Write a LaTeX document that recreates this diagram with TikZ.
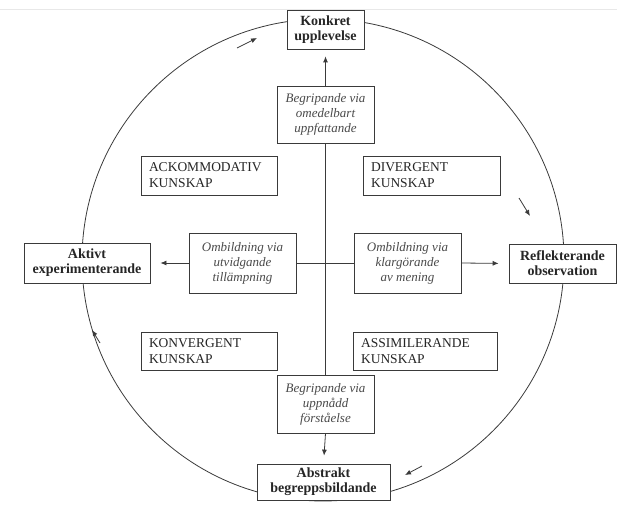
\documentclass[tikz,border=0pt]{standalone}
\usepackage{fontspec}
\setmainfont{Liberation Serif}
\usetikzlibrary{arrows.meta}
\definecolor{ln}{HTML}{3A3A3A}
\definecolor{tx}{HTML}{262626}
\definecolor{it}{HTML}{4A4A4A}
\begin{document}
\begin{tikzpicture}[x=1pt,y=-1pt,
  box/.style={draw=ln, line width=0.8pt, fill=white, inner sep=0pt, align=center,
    font=\fontsize{14}{15}\selectfont\bfseries, text=tx},
  ibox/.style={draw=ln, line width=0.8pt, fill=white, inner sep=0pt, align=center,
    font=\fontsize{13}{15}\selectfont\itshape, text=it},
  kbox/.style={draw=ln, line width=0.8pt, fill=white, inner ysep=0pt, inner xsep=8pt,
    align=left, text width=120pt, minimum height=39pt,
    font=\fontsize{13.5}{16}\selectfont, text=tx},
  arr/.style={-{Latex[length=6pt,width=5pt]}, draw=ln, line width=0.8pt},
  ring/.style={draw=ln, line width=0.8pt}]
\useasboundingbox (0,0) rectangle (617,505);
% faint page edge
\coordinate (e1) at (0,9);
\coordinate (e2) at (617,9);
\draw[gray!18, line width=0.6pt] (e1) -- (e2);
% circle
\coordinate (c) at (323,260);
\draw[ring] (c) circle[radius=241pt];
% main boxes
\node[box, minimum width=77pt, minimum height=39pt] (konk) at (325.5,29.5) {Konkret\\upplevelse};
\node[box, minimum width=126pt, minimum height=40pt] (akt) at (87,263) {Aktivt\\experimenterande};
\node[box, minimum width=107pt, minimum height=39pt] (refl) at (562.5,263.5) {Reflekterande\\observation};
\node[box, minimum width=133pt, minimum height=36pt] (abs) at (323.5,482) {Abstrakt\\begreppsbildande};
% italic boxes
\node[ibox, minimum width=97pt, minimum height=57pt] (bup) at (325.5,114.5) {Begripande via\\omedelbart\\uppfattande};
\node[ibox, minimum width=97pt, minimum height=58pt] (bdn) at (325.5,404) {Begripande via\\uppnådd\\förståelse};
\node[ibox, minimum width=107pt, minimum height=60pt] (oml) at (242.5,263) {Ombildning via\\utvidgande\\tillämpning};
\node[ibox, minimum width=107pt, minimum height=60pt] (omr) at (407.5,263) {Ombildning via\\klargörande\\av mening};
% knowledge boxes
\node[kbox] (ack) at (209,175.5) {ACKOMMODATIV\\KUNSKAP};
\node[kbox, text width=121pt] (div) at (431.5,175.5) {DIVERGENT\\KUNSKAP};
\node[kbox, minimum height=38pt] (konv) at (209,351) {KONVERGENT\\KUNSKAP};
\node[kbox, text width=128pt, minimum height=38pt] (ass) at (425,351) {ASSIMILERANDE\\KUNSKAP};
% axes
\draw[ln, line width=0.8pt] (bup.south) -- (bdn.north);
\draw[ln, line width=0.8pt] (oml.east) -- (omr.west);
\draw[arr, shorten >=7pt] (bup.north) -- (konk.south);
\draw[arr, shorten >=8pt] (bdn.south) -- (abs.north);
\draw[arr, shorten >=10pt] (oml.west) -- (akt.east);
\draw[arr, shorten >=10pt] (omr.east) -- (refl.west);
% small cycle arrows
\coordinate (a1s) at (237,48);  \coordinate (a1e) at (257,38);
\coordinate (a2s) at (519,198); \coordinate (a2e) at (530,216);
\coordinate (a3s) at (422,466); \coordinate (a3e) at (405,475);
\coordinate (a4s) at (100,343); \coordinate (a4e) at (92,330);
\draw[arr] (a1s) -- (a1e);
\draw[arr] (a2s) -- (a2e);
\draw[arr] (a3s) -- (a3e);
\draw[arr] (a4s) -- (a4e);
\end{tikzpicture}
\end{document}
